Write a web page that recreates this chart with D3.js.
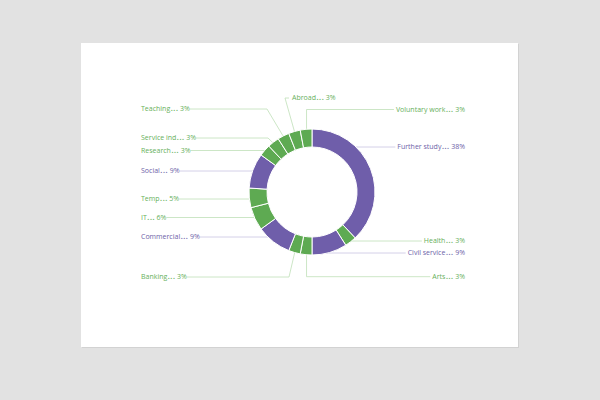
<!DOCTYPE html>
<html>
<head>
<meta charset="utf-8">
<script src="https://cdn.jsdelivr.net/npm/d3@7"></script>
<style>
  html, body { margin: 0; padding: 0; background: #e2e2e2; }
  svg { display: block; }
</style>
</head>
<body>
<svg id="chart" width="600" height="400"></svg>
<script>
// ---- data ----
const categories = ["Further study", "Health", "Civil service", "Arts", "Banking", "Commercial", "IT", "Temp", "Social", "Research", "Service ind", "Teaching", "Abroad", "Voluntary work"];
const values = [38, 3, 9, 3, 3, 9, 6, 5, 9, 3, 3, 3, 3, 3];
const groups = ["p", "g", "p", "g", "g", "p", "g", "g", "p", "g", "g", "g", "g", "g"];

// ---- layout (label placement) ----
// side: "r" right aligned at right column, "l" left aligned at left column, "t" top free label
const labelSide = ["r", "r", "r", "r", "l", "l", "l", "l", "l", "l", "l", "l", "t", "r"];
const labelLineY = [147, 241, 253, 276.7, 277, 237, 217.5, 199, 171, 150.5, 138, 109, 98, 109.5];
// elbow type: "h" horizontal from hidden centre, "v" vertical from slice, "d" diagonal to given x
const elbowType = ["h", "h", "h", "v", "d", "h", "h", "h", "h", "h", "d", "d", "d", "v"];
const elbowX = [null, null, null, null, 289, null, null, null, null, null, 268, 267, 285, null];

const W = 600, H = 400;
const cx = 312, cy = 192, rOuter = 63, rInner = 45;
const leftX = 141, rightX = 463;

const colors = { p: "#6f5eaa", g: "#5eaa52" };
const textColors = { p: "#6d62a8", g: "#67b05b" };
const lineColors = { p: "#c9c4e2", g: "#bfe0b8" };

const svg = d3.select("#chart");

// card
svg.append("rect").attr("x", 82).attr("y", 44).attr("width", 437).attr("height", 304).attr("fill", "#d2d2d2");
svg.append("rect").attr("x", 81).attr("y", 43).attr("width", 437).attr("height", 304).attr("fill", "#ffffff");

const data = categories.map((c, i) => ({ name: c, value: values[i], group: groups[i], i }));
const pie = d3.pie().value(d => d.value).sort(null);
const arcs = pie(data);
const arc = d3.arc().innerRadius(rInner).outerRadius(rOuter);
const anchorArc = d3.arc().innerRadius(58).outerRadius(58);

const g = svg.append("g");
const linesG = g.append("g");
const textG = g.append("g");

// measure text helper
function labelNode(d, i) {
  const t = textG.append("text")
    .attr("font-family", "'Open Sans', sans-serif")
    .attr("font-size", 7)
    .attr("fill", textColors[d.data.group])
    .attr("y", labelLineY[i] + 2);
  t.append("tspan").text(d.data.name);
  t.append("tspan").attr("font-weight", "bold").attr("letter-spacing", 0.6).attr("dx", 0.5).text("...");
  t.append("tspan").attr("dx", 1.5).text(d.data.value + "%");
  return t;
}

arcs.forEach((d, i) => {
  const side = labelSide[i];
  const ly = labelLineY[i];
  const t = labelNode(d, i);
  const w = t.node().getComputedTextLength();
  let tx, lineEnd;
  if (side === "l") { tx = leftX; lineEnd = leftX + w + 2; }
  else if (side === "r") { tx = rightX - w; lineEnd = rightX - w - 2; }
  else { tx = elbowX[i] + 7; lineEnd = elbowX[i] + 4; }
  t.attr("x", tx);

  const a = anchorArc.centroid(d);
  const ax = cx + a[0], ay = cy + a[1];
  let pts;
  const type = elbowType[i];
  if (type === "h") pts = [[cx, ly], [lineEnd, ly]];
  else if (type === "v") pts = [[ax, ay], [ax, ly], [lineEnd, ly]];
  else pts = [[ax, ay], [elbowX[i], ly], [lineEnd, ly]];
  linesG.append("path")
    .attr("d", d3.line()(pts))
    .attr("fill", "none")
    .attr("stroke", lineColors[d.data.group])
    .attr("stroke-width", 0.8);
});

// hole cover + donut
g.append("circle").attr("cx", cx).attr("cy", cy).attr("r", rInner).attr("fill", "#ffffff");
g.append("g").attr("transform", `translate(${cx},${cy})`)
  .selectAll("path").data(arcs).join("path")
  .attr("d", arc)
  .attr("fill", d => colors[d.data.group])
  .attr("stroke", "#ffffff")
  .attr("stroke-width", 1);
</script>
</body>
</html>
